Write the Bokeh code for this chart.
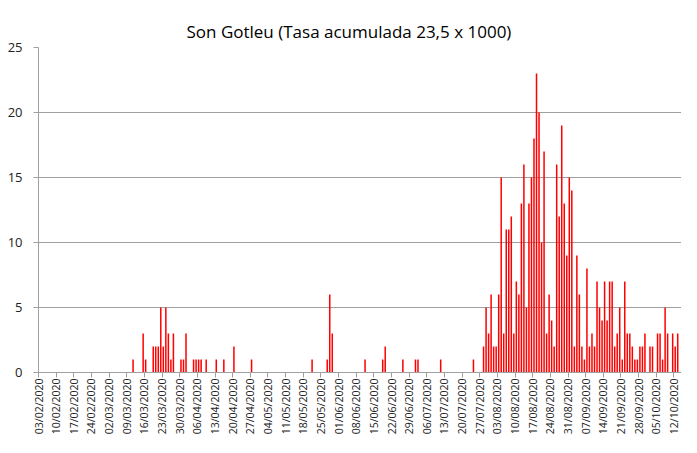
import pandas as pd
from bokeh.plotting import figure
from bokeh.models import Range1d, FixedTicker, ColumnDataSource
from bokeh.embed import file_html
from bokeh.resources import INLINE

# ---------------- data ----------------
start_date = "03/02/2020"
end_date = "14/10/2020"

case_dates = [
    "11/03", "15/03", "16/03", "19/03", "20/03", "21/03", "22/03", "23/03", "24/03", "25/03",
    "26/03", "27/03", "30/03", "31/03", "01/04", "04/04", "05/04", "06/04", "07/04", "09/04",
    "13/04", "16/04", "20/04", "27/04", "21/05", "27/05", "28/05", "29/05", "11/06", "18/06",
    "19/06", "26/06", "01/07", "02/07", "11/07", "24/07",
    "28/07", "29/07", "30/07", "31/07", "01/08", "02/08", "03/08", "04/08", "05/08", "06/08",
    "07/08", "08/08", "09/08", "10/08", "11/08", "12/08", "13/08", "14/08", "15/08", "16/08",
    "17/08", "18/08", "19/08", "20/08", "21/08", "22/08", "23/08", "24/08", "25/08", "26/08",
    "27/08", "28/08", "29/08", "30/08", "31/08", "01/09", "02/09", "03/09", "04/09", "05/09",
    "06/09", "07/09", "08/09", "09/09", "10/09", "11/09", "12/09", "13/09", "14/09", "15/09",
    "16/09", "17/09", "18/09", "19/09", "20/09", "21/09", "22/09", "23/09", "24/09", "25/09",
    "26/09", "27/09", "28/09", "29/09", "30/09", "02/10", "03/10", "05/10", "06/10", "07/10",
    "08/10", "09/10", "11/10", "12/10", "13/10",
]
case_counts = [
    1, 3, 1, 2, 2, 2, 5, 2, 5, 3,
    1, 3, 1, 1, 3, 1, 1, 1, 1, 1,
    1, 1, 2, 1, 1, 1, 6, 3, 1, 1,
    2, 1, 1, 1, 1, 1,
    2, 5, 3, 6, 2, 2, 6, 15, 3, 11,
    11, 12, 3, 7, 6, 13, 16, 5, 13, 15,
    18, 23, 20, 10, 17, 3, 6, 4, 2, 16,
    12, 19, 13, 9, 15, 14, 2, 9, 6, 2,
    1, 8, 2, 3, 2, 7, 5, 4, 7, 4,
    7, 7, 2, 3, 5, 1, 7, 3, 3, 2,
    1, 1, 2, 2, 3, 2, 2, 3, 3, 1,
    5, 3, 3, 2, 3,
]
tick_labels = [
    "03/02/2020", "10/02/2020", "17/02/2020", "24/02/2020", "02/03/2020", "09/03/2020",
    "16/03/2020", "23/03/2020", "30/03/2020", "06/04/2020", "13/04/2020", "20/04/2020",
    "27/04/2020", "04/05/2020", "11/05/2020", "18/05/2020", "25/05/2020", "01/06/2020",
    "08/06/2020", "15/06/2020", "22/06/2020", "29/06/2020", "06/07/2020", "13/07/2020",
    "20/07/2020", "27/07/2020", "03/08/2020", "10/08/2020", "17/08/2020", "24/08/2020",
    "31/08/2020", "07/09/2020", "14/09/2020", "21/09/2020", "28/09/2020", "05/10/2020",
    "12/10/2020",
]
y_ticks = [0, 5, 10, 15, 20, 25]
title_text = "Son Gotleu (Tasa  acumulada  23,5 x 1000)"

# ---------------- derived positions ----------------
t0 = pd.to_datetime(start_date, format="%d/%m/%Y")
n_days = (pd.to_datetime(end_date, format="%d/%m/%Y") - t0).days + 1
day_idx = [(pd.to_datetime(d + "/2020", format="%d/%m/%Y") - t0).days for d in case_dates]
tick_pos = [(pd.to_datetime(t, format="%d/%m/%Y") - t0).days for t in tick_labels]

src = ColumnDataSource(dict(x=[i + 0.5 for i in day_idx], top=case_counts))

GRID = "#a0a0a0"
FONT = "Open Sans"

p = figure(width=681, height=437, output_backend="svg", toolbar_location=None,
           x_range=Range1d(0, n_days), y_range=Range1d(0, 25),
           min_border_left=38, min_border_right=0, min_border_top=47, min_border_bottom=60)

p.vbar(x="x", top="top", bottom=0, width=0.6, source=src,
       fill_color="#ff0000", line_color=None)

p.title.text = title_text
p.title.text_font = FONT
p.title.text_font_size = "17px"
p.title.text_font_style = "normal"
p.title.text_color = "#000000"
p.title.align = "left"
p.title.offset = 148

p.outline_line_color = None
p.background_fill_color = "white"
p.border_fill_color = "white"

p.xgrid.visible = False
p.ygrid.grid_line_color = GRID
p.ygrid.grid_line_width = 1
p.ygrid.ticker = FixedTicker(ticks=y_ticks)

p.xaxis.ticker = FixedTicker(ticks=tick_pos)
p.xaxis.major_label_overrides = {tp: lab for tp, lab in zip(tick_pos, tick_labels)}
p.xaxis.major_label_orientation = 1.5708
p.xaxis.major_label_text_font = FONT
p.xaxis.major_label_text_font_size = "10.5px"
p.xaxis.major_label_text_color = "#222222"
p.xaxis.axis_line_color = GRID
p.xaxis.major_tick_line_color = GRID
p.xaxis.major_tick_out = 5
p.xaxis.major_tick_in = 0
p.xaxis.minor_tick_line_color = None
p.xaxis.major_label_standoff = 1

p.yaxis.ticker = FixedTicker(ticks=y_ticks)
p.yaxis.major_label_text_font = FONT
p.yaxis.major_label_text_font_size = "13px"
p.yaxis.major_label_text_color = "#222222"
p.yaxis.axis_line_color = GRID
p.yaxis.major_tick_line_color = GRID
p.yaxis.major_tick_out = 5
p.yaxis.major_tick_in = 0
p.yaxis.minor_tick_line_color = None
p.yaxis.major_label_standoff = 11

open("out.html", "w").write(file_html(p, INLINE))
